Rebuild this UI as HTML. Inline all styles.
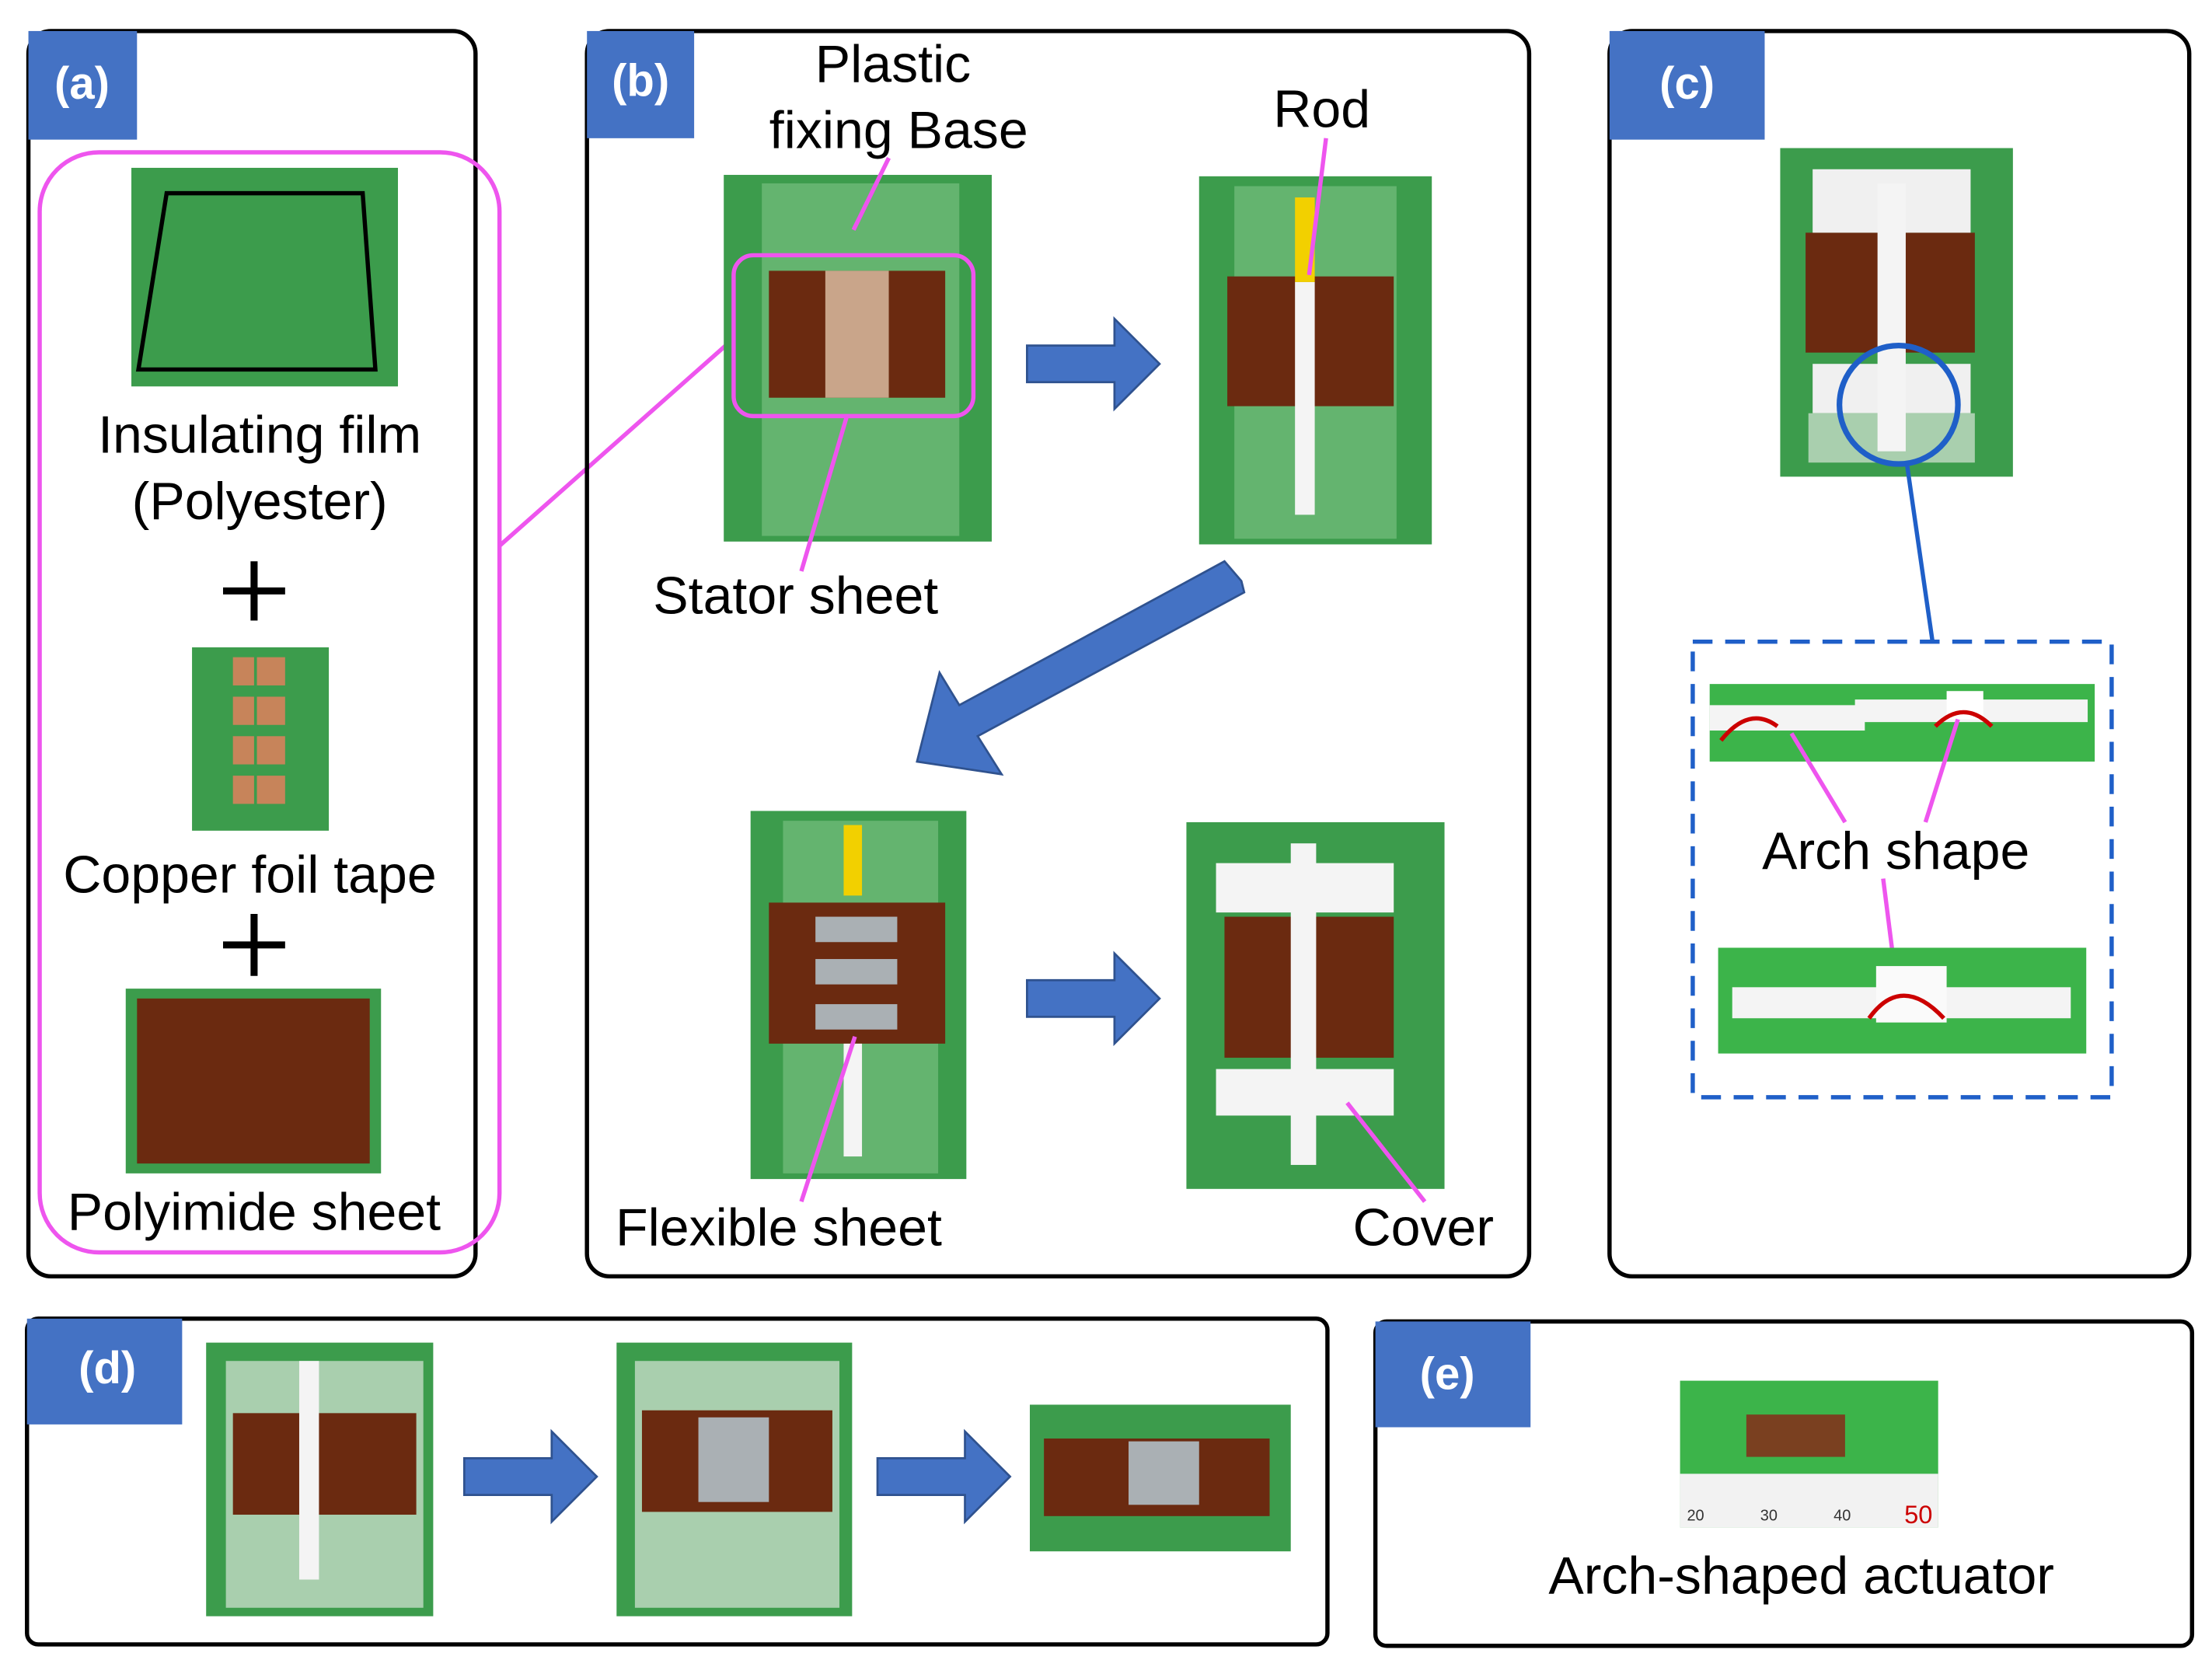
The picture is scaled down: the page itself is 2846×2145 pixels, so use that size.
<!DOCTYPE html>
<html><head><meta charset="utf-8"><style>
html,body{margin:0;padding:0;background:#fff}
svg{display:block}
text{font-family:"Liberation Sans",sans-serif}
.l{font-size:37.5px}
.p{font-size:32px;font-weight:bold;fill:#fff}
</style></head><body>
<svg width="2846" height="2145" viewBox="0 0 1568 1182" xmlns="http://www.w3.org/2000/svg">
<defs>
<g id="arrowR"><polygon points="0,-13 62,-13 62,-32 94,0 62,32 62,13 0,13" fill="#4472C4" stroke="#2F528F" stroke-width="1.5"/></g>
</defs>
<!-- Panel a -->
<rect x="20" y="22" width="317" height="883" rx="16" fill="none" stroke="#000" stroke-width="3"/>
<rect x="20" y="22" width="77" height="77" fill="#4472C4"/>
<text x="58" y="70" class="p" text-anchor="middle">(a)</text>
<rect x="28" y="108" width="326" height="780" rx="42" fill="none" stroke="#EE55EE" stroke-width="3"/>
<rect x="93" y="119" width="189" height="155" fill="#3c9c4c"/>
<polygon points="118,137 257,137 266,262 98,262" fill="none" stroke="#000" stroke-width="3"/>
<text x="184" y="321" class="l" text-anchor="middle">Insulating film</text>
<text x="184" y="368" class="l" text-anchor="middle">(Polyester)</text>
<path d="M180,398 V440 M158,419 H202" stroke="#000" stroke-width="5"/>
<rect x="136" y="459" width="97" height="130" fill="#3c9c4c"/>
<g fill="#c7845a"><rect x="165" y="466" width="15" height="20"/><rect x="182" y="466" width="20" height="20"/><rect x="165" y="494" width="15" height="20"/><rect x="182" y="494" width="20" height="20"/><rect x="165" y="522" width="15" height="20"/><rect x="182" y="522" width="20" height="20"/><rect x="165" y="550" width="15" height="20"/><rect x="182" y="550" width="20" height="20"/></g>
<text x="177" y="633" class="l" text-anchor="middle">Copper foil tape</text>
<path d="M180,648 V692 M158,670 H202" stroke="#000" stroke-width="5"/>
<rect x="89" y="701" width="181" height="131" fill="#3c9c4c"/>
<rect x="97" y="708" width="165" height="117" fill="#6b2a10"/>
<text x="180" y="872" class="l" text-anchor="middle">Polyimide sheet</text>
<line x1="354" y1="387" x2="520" y2="240" stroke="#EE55EE" stroke-width="3"/>

<!-- Panel b -->
<rect x="416" y="22" width="668" height="883" rx="16" fill="none" stroke="#000" stroke-width="3"/>
<rect x="416" y="22" width="76" height="76" fill="#4472C4"/>
<text x="454" y="68" class="p" text-anchor="middle">(b)</text>
<rect x="513" y="124" width="190" height="260" fill="#3c9c4c"/>
<rect x="540" y="130" width="140" height="250" fill="#7ec487" opacity="0.6"/>
<rect x="545" y="192" width="125" height="90" fill="#6b2a10"/>
<rect x="585" y="192" width="45" height="90" fill="#c9a58a"/>
<rect x="520" y="181" width="170" height="114" rx="14" fill="none" stroke="#EE55EE" stroke-width="3"/>
<text x="633" y="58" class="l" text-anchor="middle">Plastic</text>
<text x="637" y="105" class="l" text-anchor="middle">fixing Base</text>
<line x1="630" y1="112" x2="605" y2="163" stroke="#EE55EE" stroke-width="3"/>
<line x1="600" y1="296" x2="568" y2="405" stroke="#EE55EE" stroke-width="3"/>
<text x="564" y="435" class="l" text-anchor="middle">Stator sheet</text>
<use href="#arrowR" x="728" y="258"/>
<rect x="850" y="125" width="165" height="261" fill="#3c9c4c"/>
<rect x="875" y="132" width="115" height="250" fill="#7ec487" opacity="0.6"/>
<rect x="870" y="196" width="118" height="92" fill="#6b2a10"/>
<rect x="918" y="140" width="14" height="60" fill="#f2d000"/>
<rect x="918" y="200" width="14" height="165" fill="#f4f4f4"/>
<text x="937" y="90" class="l" text-anchor="middle">Rod</text>
<line x1="940" y1="98" x2="928" y2="195" stroke="#EE55EE" stroke-width="3"/>
<polygon points="880,412 868,398 680,500 666,477 650,540 710,549 693,522 882,420" fill="#4472C4" stroke="#2F528F" stroke-width="1.5"/>
<rect x="532" y="575" width="153" height="261" fill="#3c9c4c"/>
<rect x="555" y="582" width="110" height="250" fill="#7ec487" opacity="0.6"/>
<rect x="545" y="640" width="125" height="100" fill="#6b2a10"/>
<rect x="578" y="650" width="58" height="18" fill="#aab0b4"/><rect x="578" y="680" width="58" height="18" fill="#aab0b4"/><rect x="578" y="712" width="58" height="18" fill="#aab0b4"/>
<rect x="598" y="585" width="13" height="50" fill="#f2d000"/>
<rect x="598" y="740" width="13" height="80" fill="#f4f4f4"/>
<line x1="606" y1="735" x2="568" y2="852" stroke="#EE55EE" stroke-width="3"/>
<text x="552" y="883" class="l" text-anchor="middle">Flexible sheet</text>
<use href="#arrowR" x="728" y="708"/>
<rect x="841" y="583" width="183" height="260" fill="#3c9c4c"/>
<rect x="868" y="650" width="120" height="100" fill="#6b2a10"/>
<rect x="862" y="612" width="126" height="35" fill="#f4f4f4"/>
<rect x="862" y="758" width="126" height="33" fill="#f4f4f4"/>
<rect x="915" y="598" width="18" height="228" fill="#f4f4f4"/>
<line x1="955" y1="782" x2="1010" y2="852" stroke="#EE55EE" stroke-width="3"/>
<text x="1009" y="883" class="l" text-anchor="middle">Cover</text>

<!-- Panel c -->
<rect x="1141" y="22" width="411" height="883" rx="16" fill="none" stroke="#000" stroke-width="3"/>
<rect x="1141" y="22" width="110" height="77" fill="#4472C4"/>
<text x="1196" y="70" class="p" text-anchor="middle">(c)</text>
<rect x="1262" y="105" width="165" height="233" fill="#3c9c4c"/>
<rect x="1280" y="165" width="120" height="85" fill="#6b2a10"/>
<rect x="1285" y="120" width="112" height="45" fill="#f0f0f0"/>
<rect x="1285" y="258" width="112" height="35" fill="#f0f0f0"/>
<rect x="1282" y="293" width="118" height="35" fill="#a9cfae"/>
<rect x="1331" y="130" width="20" height="190" fill="#f4f4f4"/>
<circle cx="1346" cy="287" r="42" fill="none" stroke="#1f5fc8" stroke-width="4"/>
<line x1="1352" y1="330" x2="1370" y2="455" stroke="#1f5fc8" stroke-width="3"/>
<rect x="1200" y="455" width="297" height="323" fill="none" stroke="#1f5fc8" stroke-width="3" stroke-dasharray="14,9"/>
<rect x="1212" y="485" width="273" height="55" fill="#3cb44a"/>
<rect x="1212" y="500" width="110" height="18" fill="#f4f4f4"/>
<rect x="1315" y="496" width="165" height="16" fill="#f4f4f4"/>
<rect x="1380" y="490" width="26" height="20" fill="#fff"/>
<path d="M1220,525 Q1240,500 1260,515 M1372,515 Q1392,495 1412,515" stroke="#c00" stroke-width="3" fill="none"/>
<text x="1344" y="616" class="l" text-anchor="middle">Arch shape</text>
<line x1="1270" y1="520" x2="1308" y2="583" stroke="#EE55EE" stroke-width="3"/>
<line x1="1388" y1="510" x2="1365" y2="583" stroke="#EE55EE" stroke-width="3"/>
<line x1="1335" y1="623" x2="1346" y2="710" stroke="#EE55EE" stroke-width="3"/>
<rect x="1218" y="672" width="261" height="75" fill="#3cb44a"/>
<rect x="1228" y="700" width="240" height="22" fill="#f4f4f4"/>
<rect x="1330" y="685" width="50" height="40" fill="#fafafa"/>
<path d="M1325,722 Q1348,690 1378,722" stroke="#c00" stroke-width="3" fill="none"/>

<!-- Panel d -->
<rect x="19" y="935" width="922" height="231" rx="8" fill="none" stroke="#000" stroke-width="3"/>
<rect x="19" y="935" width="110" height="75" fill="#4472C4"/>
<text x="76" y="981" class="p" text-anchor="middle">(d)</text>
<rect x="146" y="952" width="161" height="194" fill="#3c9c4c"/>
<rect x="160" y="965" width="140" height="175" fill="#a9cfae"/>
<rect x="165" y="1002" width="130" height="72" fill="#6b2a10"/>
<rect x="212" y="965" width="14" height="155" fill="#f4f4f4"/>
<use href="#arrowR" x="329" y="1047"/>
<rect x="437" y="952" width="167" height="194" fill="#3c9c4c"/>
<rect x="450" y="965" width="145" height="175" fill="#a9cfae"/>
<rect x="455" y="1000" width="135" height="72" fill="#6b2a10"/>
<rect x="495" y="1005" width="50" height="60" fill="#aab0b4"/>
<use href="#arrowR" x="622" y="1047"/>
<rect x="730" y="996" width="185" height="104" fill="#3c9c4c"/>
<rect x="740" y="1020" width="160" height="55" fill="#6b2a10"/>
<rect x="800" y="1022" width="50" height="45" fill="#aab0b4"/>

<!-- Panel e -->
<rect x="975" y="937" width="579" height="230" rx="8" fill="none" stroke="#000" stroke-width="3"/>
<rect x="975" y="937" width="110" height="75" fill="#4472C4"/>
<text x="1026" y="985" class="p" text-anchor="middle">(e)</text>
<rect x="1191" y="979" width="183" height="104" fill="#3cb44a"/>
<rect x="1191" y="1045" width="183" height="38" fill="#f2f2f2"/>
<rect x="1238" y="1003" width="70" height="30" fill="#7a4020"/>
<text x="1202" y="1078" font-size="11" fill="#333" text-anchor="middle">20</text>
<text x="1254" y="1078" font-size="11" fill="#333" text-anchor="middle">30</text>
<text x="1306" y="1078" font-size="11" fill="#333" text-anchor="middle">40</text>
<text x="1360" y="1080" font-size="18" fill="#c00" text-anchor="middle">50</text>
<text x="1277" y="1130" class="l" text-anchor="middle">Arch-shaped actuator</text>
</svg>
</body></html>
